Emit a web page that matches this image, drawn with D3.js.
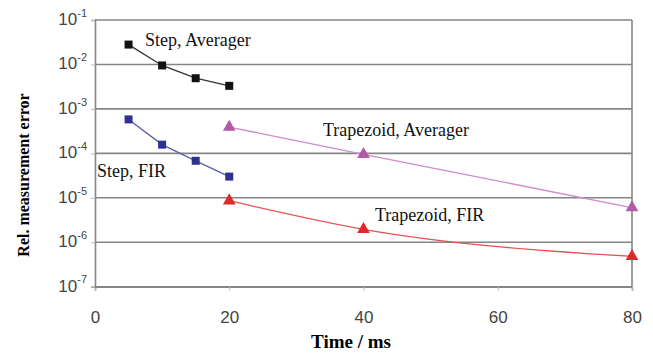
<!DOCTYPE html>
<html><head><meta charset="utf-8">
<script src="https://cdn.jsdelivr.net/npm/d3@7"></script>
<style>body{margin:0;background:#fff}svg{display:block}</style>
</head><body>
<svg id="c" width="653" height="353"></svg>
<script>
const xTicks = [0, 20, 40, 60, 80];
const yExps = [-1, -2, -3, -4, -5, -6, -7];
const stepAvgX = [5, 10, 15, 20];
const stepAvgY = [0.028, 0.0095, 0.0049, 0.0033];
const stepFirX = [5, 10, 15, 20];
const stepFirY = [5.8e-4, 1.57e-4, 6.8e-5, 3.0e-5];
const trapAvgX = [20, 40, 80];
const trapAvgY = [3.9e-4, 9.5e-5, 6.0e-6];
const trapFirX = [20, 40, 80];
const trapFirY = [8.6e-6, 1.95e-6, 4.8e-7];
const labels = ["Step, Averager", "Step, FIR", "Trapezoid, Averager", "Trapezoid, FIR"];

const svg = d3.select("#c");
const L = 95, R = 632, T = 20, B = 286.7;
const x = d3.scaleLinear().domain([0, 80]).range([L, R]);
const y = d3.scaleLog().domain([1e-7, 1e-1]).range([B, T]);

// grid
svg.append("g").selectAll("line").data(yExps).join("line")
  .attr("x1", L).attr("x2", R)
  .attr("y1", d => y(Math.pow(10, d))).attr("y2", d => y(Math.pow(10, d)))
  .attr("stroke", "#858585").attr("stroke-width", 1.6);
// right border
svg.append("line").attr("x1", R).attr("x2", R).attr("y1", T).attr("y2", B)
  .attr("stroke", "#858585").attr("stroke-width", 1.6);

// axes
const xAxis = d3.axisBottom(x).tickValues(xTicks).tickSize(4).tickPadding(20).tickFormat(d3.format("d"));
const gx = svg.append("g").attr("transform", `translate(0,${B})`).call(xAxis);
gx.select(".domain").attr("stroke", "#858585").attr("stroke-width", 1.6);
gx.selectAll(".tick line").attr("stroke", "#bbb");
gx.selectAll(".tick text").attr("font-family", "Liberation Sans, Arial, sans-serif")
  .attr("font-size", 17).attr("fill", "#444");

const yAxis = d3.axisLeft(y).tickValues(yExps.map(e => Math.pow(10, e))).tickSize(4).tickPadding(8).tickFormat("");
const gy = svg.append("g").attr("transform", `translate(${L},0)`).call(yAxis);
gy.select(".domain").attr("stroke", "#858585").attr("stroke-width", 1.6);
gy.selectAll(".tick line").attr("stroke", "#bbb");
gy.selectAll(".tick").append("text")
  .attr("x", -8).attr("dy", "0.45em").attr("text-anchor", "end")
  .attr("font-family", "Liberation Sans, Arial, sans-serif").attr("fill", "#444")
  .each(function(d) {
    const t = d3.select(this);
    const e = Math.round(Math.log10(d));
    t.append("tspan").attr("font-size", 17).text("10");
    t.append("tspan").attr("font-size", 11).attr("dy", "-0.75em").text(String(e));
  });

function series(xs, ys, color, lineColor, shape, curve) {
  const pts = xs.map((v, i) => [v, ys[i]]);
  const line = d3.line().x(d => x(d[0])).y(d => y(d[1])).curve(curve);
  svg.append("path").attr("d", line(pts)).attr("fill", "none")
    .attr("stroke", lineColor).attr("stroke-width", 1.3);
  const sym = d3.symbol().type(shape).size(shape === d3.symbolSquare ? 64 : 70);
  svg.append("g").selectAll("path").data(pts).join("path")
    .attr("transform", d => `translate(${x(d[0])},${y(d[1])})`)
    .attr("d", sym).attr("fill", color);
}
series(stepAvgX, stepAvgY, "#111", "#333", d3.symbolSquare, d3.curveLinear);
series(stepFirX, stepFirY, "#2e3192", "#5a5fa8", d3.symbolSquare, d3.curveLinear);
series(trapAvgX, trapAvgY, "#b05aa8", "#cf8ac8", d3.symbolTriangle, d3.curveMonotoneX);
series(trapFirX, trapFirY, "#e02828", "#e85050", d3.symbolTriangle, d3.curveMonotoneX);

const font = "Liberation Serif, Times New Roman, serif";
const labelPos = [[145, 46], [97, 177], [323, 136], [375, 221]];
svg.append("g").selectAll("text").data(labels).join("text")
  .attr("x", (d, i) => labelPos[i][0]).attr("y", (d, i) => labelPos[i][1])
  .attr("font-family", font).attr("font-size", 18).attr("fill", "#111").text(d => d);

svg.append("text").attr("x", 351).attr("y", 348).attr("text-anchor", "middle")
  .attr("font-family", font).attr("font-weight", "bold").attr("font-size", 19).text("Time / ms");
svg.append("text").attr("transform", `translate(29,175) rotate(-90)`)
  .attr("text-anchor", "middle")
  .attr("font-family", font).attr("font-weight", "bold").attr("font-size", 16).text("Rel. measurement error");
</script>
</body></html>
